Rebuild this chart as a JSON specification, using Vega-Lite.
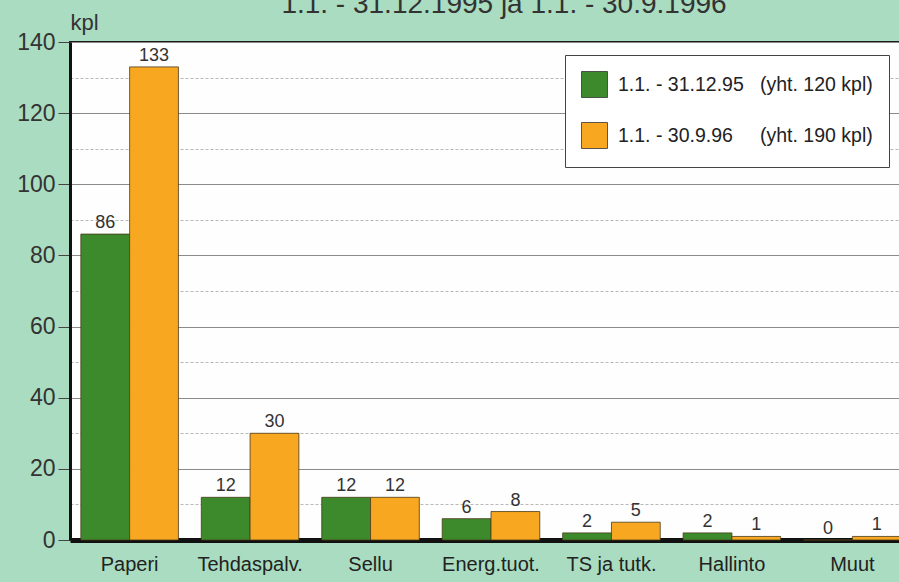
{
  "$schema": "https://vega.github.io/schema/vega-lite/v6.json",
  "width": 842,
  "height": 498,
  "autosize": {"type": "none"},
  "padding": {"left": 70, "top": 42, "right": 0, "bottom": 42},
  "background": "#a9dcc0",
  "title": {
    "text": "1.1. - 31.12.1995 ja 1.1. - 30.9.1996",
    "font": "Liberation Sans",
    "fontSize": 28,
    "fontWeight": "normal",
    "color": "#333333",
    "anchor": "middle",
    "baseline": "alphabetic",
    "offset": 0,
    "dx": 13,
    "dy": 30
  },
  "config": {
    "view": {"fill": "#fdfefd", "stroke": "#1a1a1a", "strokeWidth": 2},
    "font": "Liberation Sans"
  },
  "data": {
    "values": [
      {"cat": "Paperi", "period": "1.1. - 31.12.95\u00a0\u00a0\u00a0(yht. 120 kpl)", "value": 86},
      {"cat": "Paperi", "period": "1.1. - 30.9.96\u00a0\u00a0\u00a0\u00a0\u00a0(yht. 190 kpl)", "value": 133},
      {"cat": "Tehdaspalv.", "period": "1.1. - 31.12.95\u00a0\u00a0\u00a0(yht. 120 kpl)", "value": 12},
      {"cat": "Tehdaspalv.", "period": "1.1. - 30.9.96\u00a0\u00a0\u00a0\u00a0\u00a0(yht. 190 kpl)", "value": 30},
      {"cat": "Sellu", "period": "1.1. - 31.12.95\u00a0\u00a0\u00a0(yht. 120 kpl)", "value": 12},
      {"cat": "Sellu", "period": "1.1. - 30.9.96\u00a0\u00a0\u00a0\u00a0\u00a0(yht. 190 kpl)", "value": 12},
      {"cat": "Energ.tuot.", "period": "1.1. - 31.12.95\u00a0\u00a0\u00a0(yht. 120 kpl)", "value": 6},
      {"cat": "Energ.tuot.", "period": "1.1. - 30.9.96\u00a0\u00a0\u00a0\u00a0\u00a0(yht. 190 kpl)", "value": 8},
      {"cat": "TS ja tutk.", "period": "1.1. - 31.12.95\u00a0\u00a0\u00a0(yht. 120 kpl)", "value": 2},
      {"cat": "TS ja tutk.", "period": "1.1. - 30.9.96\u00a0\u00a0\u00a0\u00a0\u00a0(yht. 190 kpl)", "value": 5},
      {"cat": "Hallinto", "period": "1.1. - 31.12.95\u00a0\u00a0\u00a0(yht. 120 kpl)", "value": 2},
      {"cat": "Hallinto", "period": "1.1. - 30.9.96\u00a0\u00a0\u00a0\u00a0\u00a0(yht. 190 kpl)", "value": 1},
      {"cat": "Muut", "period": "1.1. - 31.12.95\u00a0\u00a0\u00a0(yht. 120 kpl)", "value": 0},
      {"cat": "Muut", "period": "1.1. - 30.9.96\u00a0\u00a0\u00a0\u00a0\u00a0(yht. 190 kpl)", "value": 1}
    ]
  },
  "encoding": {
    "x": {
      "field": "cat",
      "type": "nominal",
      "sort": null,
      "scale": {"paddingInner": 0.19, "paddingOuter": 0.09},
      "axis": {
        "title": null,
        "labelAngle": 0,
        "labelFontSize": 20,
        "labelColor": "#222222",
        "labelPadding": 14,
        "ticks": false,
        "domainColor": "#111111",
        "domainWidth": 5
      }
    },
    "xOffset": {"field": "period", "type": "nominal", "sort": null},
    "y": {
      "field": "value",
      "type": "quantitative",
      "scale": {"domain": [0, 140], "nice": false},
      "axis": {
        "values": [0, 10, 20, 30, 40, 50, 60, 70, 80, 90, 100, 110, 120, 130, 140],
        "labelExpr": "datum.value % 20 === 0 ? datum.label : ''",
        "labelFontSize": 23,
        "labelColor": "#333333",
        "labelPadding": 3,
        "tickSize": 12,
        "tickColor": "#444444",
        "tickOpacity": {"condition": {"test": "datum.value % 20 === 0", "value": 1}, "value": 0},
        "grid": true,
        "gridColor": {"condition": {"test": "datum.value % 20 === 0", "value": "#8a8a8a"}, "value": "#b8b8b8"},
        "gridDash": {"condition": {"test": "datum.value % 20 === 0", "value": []}, "value": [3, 2]},
        "gridWidth": 1,
        "domainColor": "#111111",
        "domainWidth": 3,
        "title": "kpl",
        "titleAngle": 0,
        "titleAlign": "left",
        "titleBaseline": "alphabetic",
        "titleX": 0,
        "titleY": -13,
        "titleFontSize": 22,
        "titleFontWeight": "normal",
        "titleColor": "#333333"
      }
    }
  },
  "layer": [
    {
      "mark": {"type": "bar", "stroke": "#4a3a1a", "strokeWidth": 0.8},
      "encoding": {
        "color": {
          "field": "period",
          "type": "nominal",
          "sort": null,
          "scale": {"range": ["#3d8a2c", "#f8a720"]},
          "legend": {
            "title": null,
            "orient": "none",
            "legendX": 495,
            "legendY": 13,
            "fillColor": "#ffffff",
            "strokeColor": "#444444",
            "padding": 16,
            "symbolType": "square",
            "symbolSize": 676,
            "symbolStrokeColor": "#333333",
            "symbolStrokeWidth": 0.8,
            "symbolOpacity": 1,
            "labelFontSize": 19.5,
            "labelColor": "#222222",
            "labelOffset": 10,
            "rowPadding": 20,
            "labelLimit": 400
          }
        }
      }
    },
    {
      "mark": {"type": "text", "baseline": "bottom", "dy": -2, "fontSize": 18, "color": "#333333"},
      "encoding": {"text": {"field": "value", "type": "quantitative"}}
    }
  ]
}
